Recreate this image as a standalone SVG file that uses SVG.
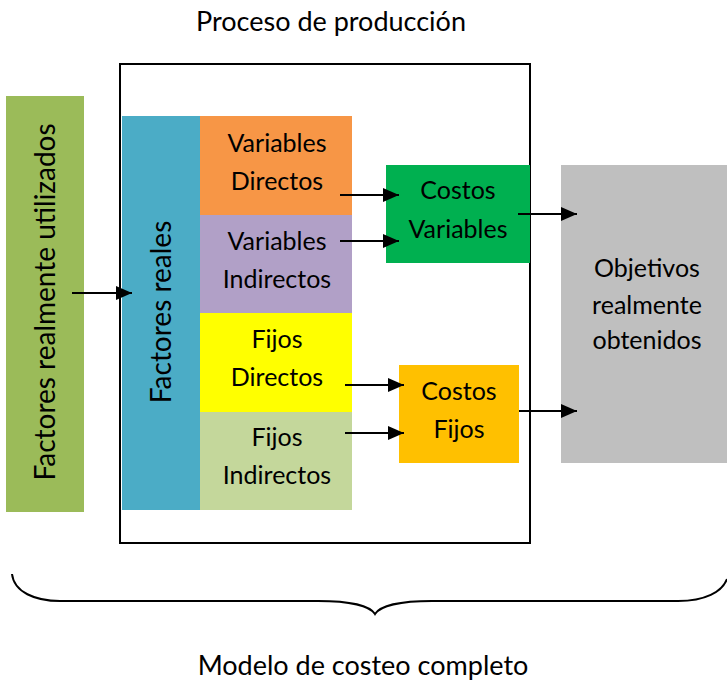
<svg xmlns="http://www.w3.org/2000/svg" width="727" height="680" viewBox="0 0 727 680">
<style>
text{font-family:Lato,"Liberation Sans",sans-serif;font-size:25px;fill:#000;text-anchor:middle}
.big{font-size:27px}
.vert{font-size:28px}
.c{stroke:#000;stroke-width:2;fill:none}
</style>
<defs>
<marker id="ah2" markerWidth="16" markerHeight="14" refX="16" refY="7" orient="auto" markerUnits="userSpaceOnUse">
<path d="M0,0 L16,7 L0,14 z" fill="#000"/>
</marker>
</defs>
<rect width="727" height="680" fill="#fff"/>
<text class="big" x="331" y="31">Proceso de producción</text>
<g id="proceso"><rect x="120" y="64" width="410" height="479" fill="none" stroke="#000" stroke-width="2"/></g>
<g id="factores-utilizados"><rect x="6" y="96" width="78" height="416" fill="#9BBB59"/>
<text class="vert" transform="translate(55,302) rotate(-90)">Factores realmente utilizados</text></g>
<g id="factores-reales"><rect x="122" y="116" width="78" height="394" fill="#4BACC6"/>
<text class="vert" transform="translate(171,312) rotate(-90)">Factores reales</text></g>
<g id="var-directos"><rect x="200" y="116" width="152" height="99" fill="#F79646"/>
<text x="277" y="152">Variables</text><text x="277" y="190">Directos</text></g>
<g id="var-indirectos"><rect x="200" y="215" width="152" height="98" fill="#B1A0C7"/>
<text x="277" y="250">Variables</text><text x="277" y="288">Indirectos</text></g>
<g id="fijos-directos"><rect x="200" y="313" width="152" height="99" fill="#FFFF00"/>
<text x="277" y="348">Fijos</text><text x="277" y="386">Directos</text></g>
<g id="fijos-indirectos"><rect x="200" y="412" width="152" height="98" fill="#C4D79B"/>
<text x="277" y="446">Fijos</text><text x="277" y="484">Indirectos</text></g>
<g id="costos-variables"><rect x="386" y="165" width="144" height="98" fill="#00B050"/>
<text x="458" y="199">Costos</text><text x="458" y="238">Variables</text></g>
<g id="costos-fijos"><rect x="399" y="365" width="120" height="98" fill="#FFC000"/>
<text x="459" y="400">Costos</text><text x="459" y="438">Fijos</text></g>
<g id="objetivos"><rect x="561" y="165" width="166" height="298" fill="#BFBFBF"/>
<text x="647" y="277">Objetivos</text><text x="647" y="314">realmente</text><text x="647" y="349">obtenidos</text></g>
<g id="connectors">
<line class="c" x1="72" y1="293" x2="132" y2="293" marker-end="url(#ah2)"/>
<line class="c" x1="340" y1="195" x2="399" y2="195" marker-end="url(#ah2)"/>
<line class="c" x1="340" y1="241" x2="399" y2="241" marker-end="url(#ah2)"/>
<line class="c" x1="518" y1="214" x2="577" y2="214" marker-end="url(#ah2)"/>
<line class="c" x1="345" y1="385" x2="404" y2="385" marker-end="url(#ah2)"/>
<line class="c" x1="345" y1="433" x2="404" y2="433" marker-end="url(#ah2)"/>
<line class="c" x1="519" y1="411" x2="577" y2="411" marker-end="url(#ah2)"/>
</g>
<g id="brace"><path class="c" d="M12,574 C14,592 35,601 60,601 L318,601 C350,601 370,606 375,614 C380,606 400,601 432,601 L678,601 C705,601 722,592 727,579"/></g>
<text class="big" x="363" y="675">Modelo de costeo completo</text>
</svg>
